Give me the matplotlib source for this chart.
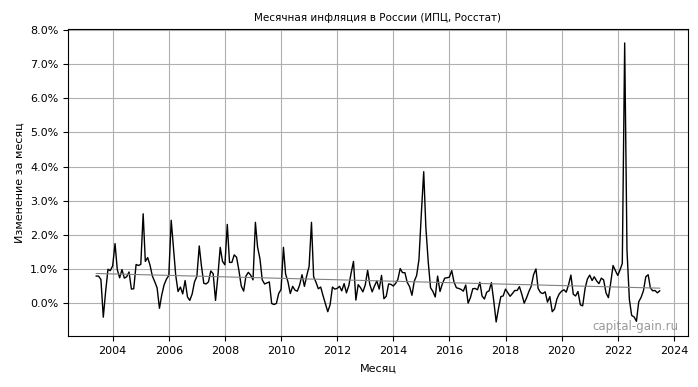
import matplotlib
matplotlib.use("Agg")
import matplotlib.pyplot as plt
import matplotlib.dates as mdates
from matplotlib.ticker import FuncFormatter
import numpy as np
import pandas as pd

# monthly CPI change, %, May 2003 .. Jun 2023
CPI_2003 = [0.80, 0.80, 0.70, -0.40, 0.34, 1.00, 0.96, 1.10]
CPI_2004 = [1.75, 0.99, 0.75, 0.99, 0.74, 0.78, 0.92, 0.42, 0.43, 1.14, 1.11, 1.14]
CPI_2005 = [2.62, 1.23, 1.34, 1.12, 0.80, 0.64, 0.46, -0.14, 0.25, 0.55, 0.71, 0.82]
CPI_2006 = [2.43, 1.66, 0.82, 0.35, 0.48, 0.28, 0.67, 0.19, 0.09, 0.28, 0.63, 0.79]
CPI_2007 = [1.68, 1.11, 0.59, 0.57, 0.63, 0.95, 0.87, 0.09, 0.79, 1.64, 1.23, 1.13]
CPI_2008 = [2.31, 1.20, 1.20, 1.42, 1.35, 0.97, 0.51, 0.36, 0.80, 0.91, 0.83, 0.69]
CPI_2009 = [2.37, 1.65, 1.31, 0.69, 0.57, 0.60, 0.63, 0.00, -0.03, 0.00, 0.29, 0.41]
CPI_2010 = [1.64, 0.86, 0.63, 0.29, 0.50, 0.39, 0.36, 0.55, 0.84, 0.50, 0.81, 1.08]
CPI_2011 = [2.37, 0.78, 0.62, 0.43, 0.48, 0.23, -0.01, -0.24, -0.04, 0.48, 0.42, 0.44]
CPI_2012 = [0.50, 0.37, 0.58, 0.31, 0.52, 0.89, 1.23, 0.10, 0.55, 0.46, 0.34, 0.54]
CPI_2013 = [0.97, 0.56, 0.34, 0.51, 0.66, 0.42, 0.82, 0.14, 0.21, 0.57, 0.56, 0.51]
CPI_2014 = [0.59, 0.70, 1.02, 0.90, 0.90, 0.62, 0.49, 0.24, 0.65, 0.82, 1.28, 2.62]
CPI_2015 = [3.85, 2.22, 1.21, 0.46, 0.35, 0.19, 0.80, 0.35, 0.57, 0.74, 0.75, 0.77]
CPI_2016 = [0.96, 0.63, 0.46, 0.44, 0.41, 0.36, 0.54, 0.01, 0.17, 0.43, 0.44, 0.40]
CPI_2017 = [0.62, 0.22, 0.13, 0.33, 0.37, 0.61, 0.07, -0.54, -0.15, 0.20, 0.22, 0.42]
CPI_2018 = [0.31, 0.21, 0.29, 0.38, 0.38, 0.49, 0.27, 0.01, 0.16, 0.35, 0.50, 0.84]
CPI_2019 = [1.01, 0.44, 0.32, 0.29, 0.34, 0.04, 0.20, -0.24, -0.16, 0.13, 0.28, 0.36]
CPI_2020 = [0.40, 0.33, 0.55, 0.83, 0.27, 0.22, 0.35, -0.04, -0.07, 0.43, 0.71, 0.83]
CPI_2021 = [0.67, 0.78, 0.66, 0.58, 0.74, 0.69, 0.31, 0.17, 0.60, 1.11, 0.96, 0.82]
CPI_2022 = [0.99, 1.17, 7.61, 1.56, 0.12, -0.35, -0.39, -0.52, 0.05, 0.18, 0.37, 0.78]
CPI_2023 = [0.84, 0.46, 0.37, 0.38, 0.31, 0.37]

values = (CPI_2003 + CPI_2004 + CPI_2005 + CPI_2006 + CPI_2007 + CPI_2008
          + CPI_2009 + CPI_2010 + CPI_2011 + CPI_2012 + CPI_2013 + CPI_2014
          + CPI_2015 + CPI_2016 + CPI_2017 + CPI_2018 + CPI_2019 + CPI_2020
          + CPI_2021 + CPI_2022 + CPI_2023)
dates = pd.date_range("2003-05-31", periods=len(values), freq="ME")

series = pd.Series(values, index=dates)

# linear trend over the whole period
idx = np.arange(len(series))
k, b = np.polyfit(idx, series.values, 1)
trend = k * idx + b

plt.rcParams["font.size"] = 8

fig = plt.figure(figsize=(6.98, 3.87), dpi=100)
ax = fig.add_axes([0.0975, 0.132, 0.888, 0.793])

ax.plot(series.index, series.values, color="black", linewidth=1.0)
ax.plot(series.index, trend, color="grey", linewidth=0.8)

ax.xaxis.set_major_locator(mdates.YearLocator(2))
ax.xaxis.set_major_formatter(mdates.DateFormatter("%Y"))
ax.yaxis.set_major_formatter(FuncFormatter(lambda v, _: f"{v:.1f}%"))
ax.grid(True, color="#b0b0b0", linewidth=0.8)

ax.set_title("Месячная инфляция в России (ИПЦ, Росстат)", fontsize=7.5)
ax.set_xlabel("Месяц", labelpad=6)
ax.set_ylabel("Изменение за месяц")

ax.text(0.985, 0.01, "capital-gain.ru", transform=ax.transAxes,
        ha="right", va="bottom", color="grey", fontsize=8.5, alpha=0.8)

fig.savefig("out.png", dpi=100)
